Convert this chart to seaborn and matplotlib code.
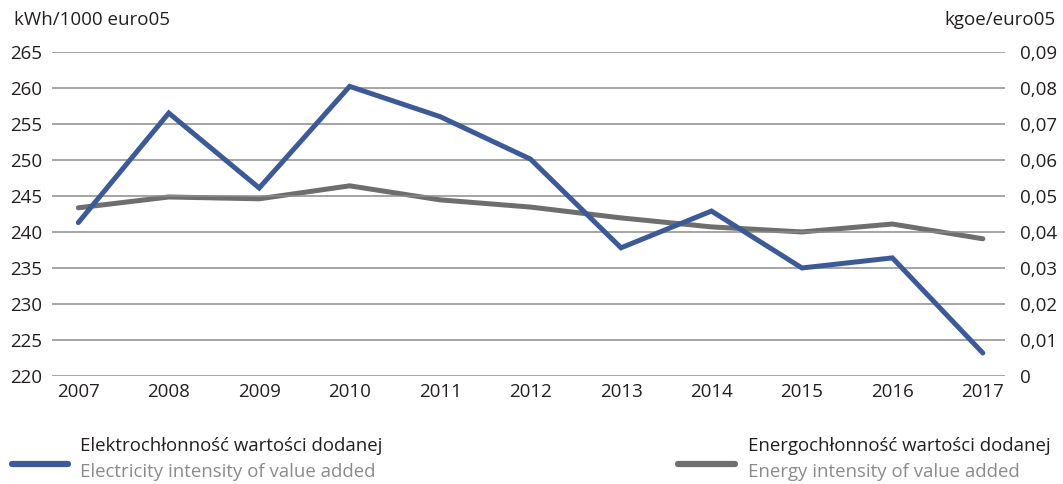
import matplotlib

matplotlib.use("Agg")
import matplotlib.pyplot as plt
import pandas as pd
import seaborn as sns
from matplotlib.lines import Line2D
from matplotlib.ticker import FuncFormatter

years = [2007, 2008, 2009, 2010, 2011, 2012, 2013, 2014, 2015, 2016, 2017]
electricity = [241.3, 256.5, 246.1, 260.2, 256.0, 250.1, 237.8, 242.9, 235.0, 236.4, 223.2]
energy = [0.0467, 0.0497, 0.0492, 0.0528, 0.0489, 0.0469, 0.0439, 0.0414, 0.0400, 0.0422, 0.0381]

left_ticks = [220, 225, 230, 235, 240, 245, 250, 255, 260, 265]
right_ticks = [0, 0.01, 0.02, 0.03, 0.04, 0.05, 0.06, 0.07, 0.08, 0.09]

BLUE = "#3d5a98"
GREY = "#6d6e70"
TXT = "#231f20"

sns.set_style("white")
plt.rcParams["font.family"] = ["Open Sans", "DejaVu Sans"]

df = pd.DataFrame({"year": years, "electricity": electricity, "energy": energy})

fig = plt.figure(figsize=(10.63, 4.84), dpi=100)
ax = fig.add_axes([0.049, 0.223, 0.896, 0.670])
ax2 = ax.twinx()

for a in (ax, ax2):
    for s in a.spines.values():
        s.set_visible(False)

ax.set_ylim(220, 265)
ax.set_yticks(left_ticks)
ax2.set_ylim(0, 0.09)
ax2.set_yticks(right_ticks)
ax.grid(axis="y", color="#8c8c8c", linewidth=1.1)
ax.set_axisbelow(True)

sns.lineplot(data=df, x="year", y="energy", ax=ax2, color=GREY, linewidth=3.6,
             solid_capstyle="round", solid_joinstyle="miter")
sns.lineplot(data=df, x="year", y="electricity", ax=ax, color=BLUE, linewidth=3.6,
             solid_capstyle="round", solid_joinstyle="miter")
# blue line drawn on top of grey one
ax.set_zorder(ax2.get_zorder() + 1)
ax.patch.set_visible(False)

ax.set_xlim(2006.71, 2017.24)
ax.set_xticks(years)
ax.set_xlabel("")
ax.set_ylabel("")
ax2.set_ylabel("")

ax.tick_params(axis="both", length=0, labelsize=13.5, labelcolor=TXT)
ax.tick_params(axis="y", pad=7)
ax.tick_params(axis="x", pad=5)
ax2.tick_params(axis="y", length=0, labelsize=13.5, labelcolor=TXT, pad=11)
ax2.yaxis.set_major_formatter(
    FuncFormatter(lambda v, _: "0" if v == 0 else f"{v:.2f}".replace(".", ",")))

fig.text(14 / 1063, 1 - 20 / 484, "kWh/1000 euro05", fontsize=13.5, color=TXT,
         ha="left", va="center")
fig.text(1055 / 1063, 1 - 20 / 484, "kgoe/euro05", fontsize=13.5, color=TXT,
         ha="right", va="center")

# legend built by hand: two entries, each with Polish + English line
legend_items = [
    (12, 68, 80, BLUE, "Elektrochłonność wartości dodanej", "Electricity intensity of value added"),
    (678, 735, 748, GREY, "Energochłonność wartości dodanej", "Energy intensity of value added"),
]
for x0, x1, xt, col, pl, en in legend_items:
    fig.add_artist(Line2D([x0 / 1063, x1 / 1063], [1 - 464 / 484] * 2, color=col,
                          linewidth=4.5, solid_capstyle="round", transform=fig.transFigure))
    fig.text(xt / 1063, 1 - 446 / 484, pl, fontsize=13.4, color=TXT, ha="left", va="center")
    fig.text(xt / 1063, 1 - 472 / 484, en, fontsize=13.4, color="#8a8b8d", ha="left", va="center")

fig.savefig("out.png", dpi=100)
